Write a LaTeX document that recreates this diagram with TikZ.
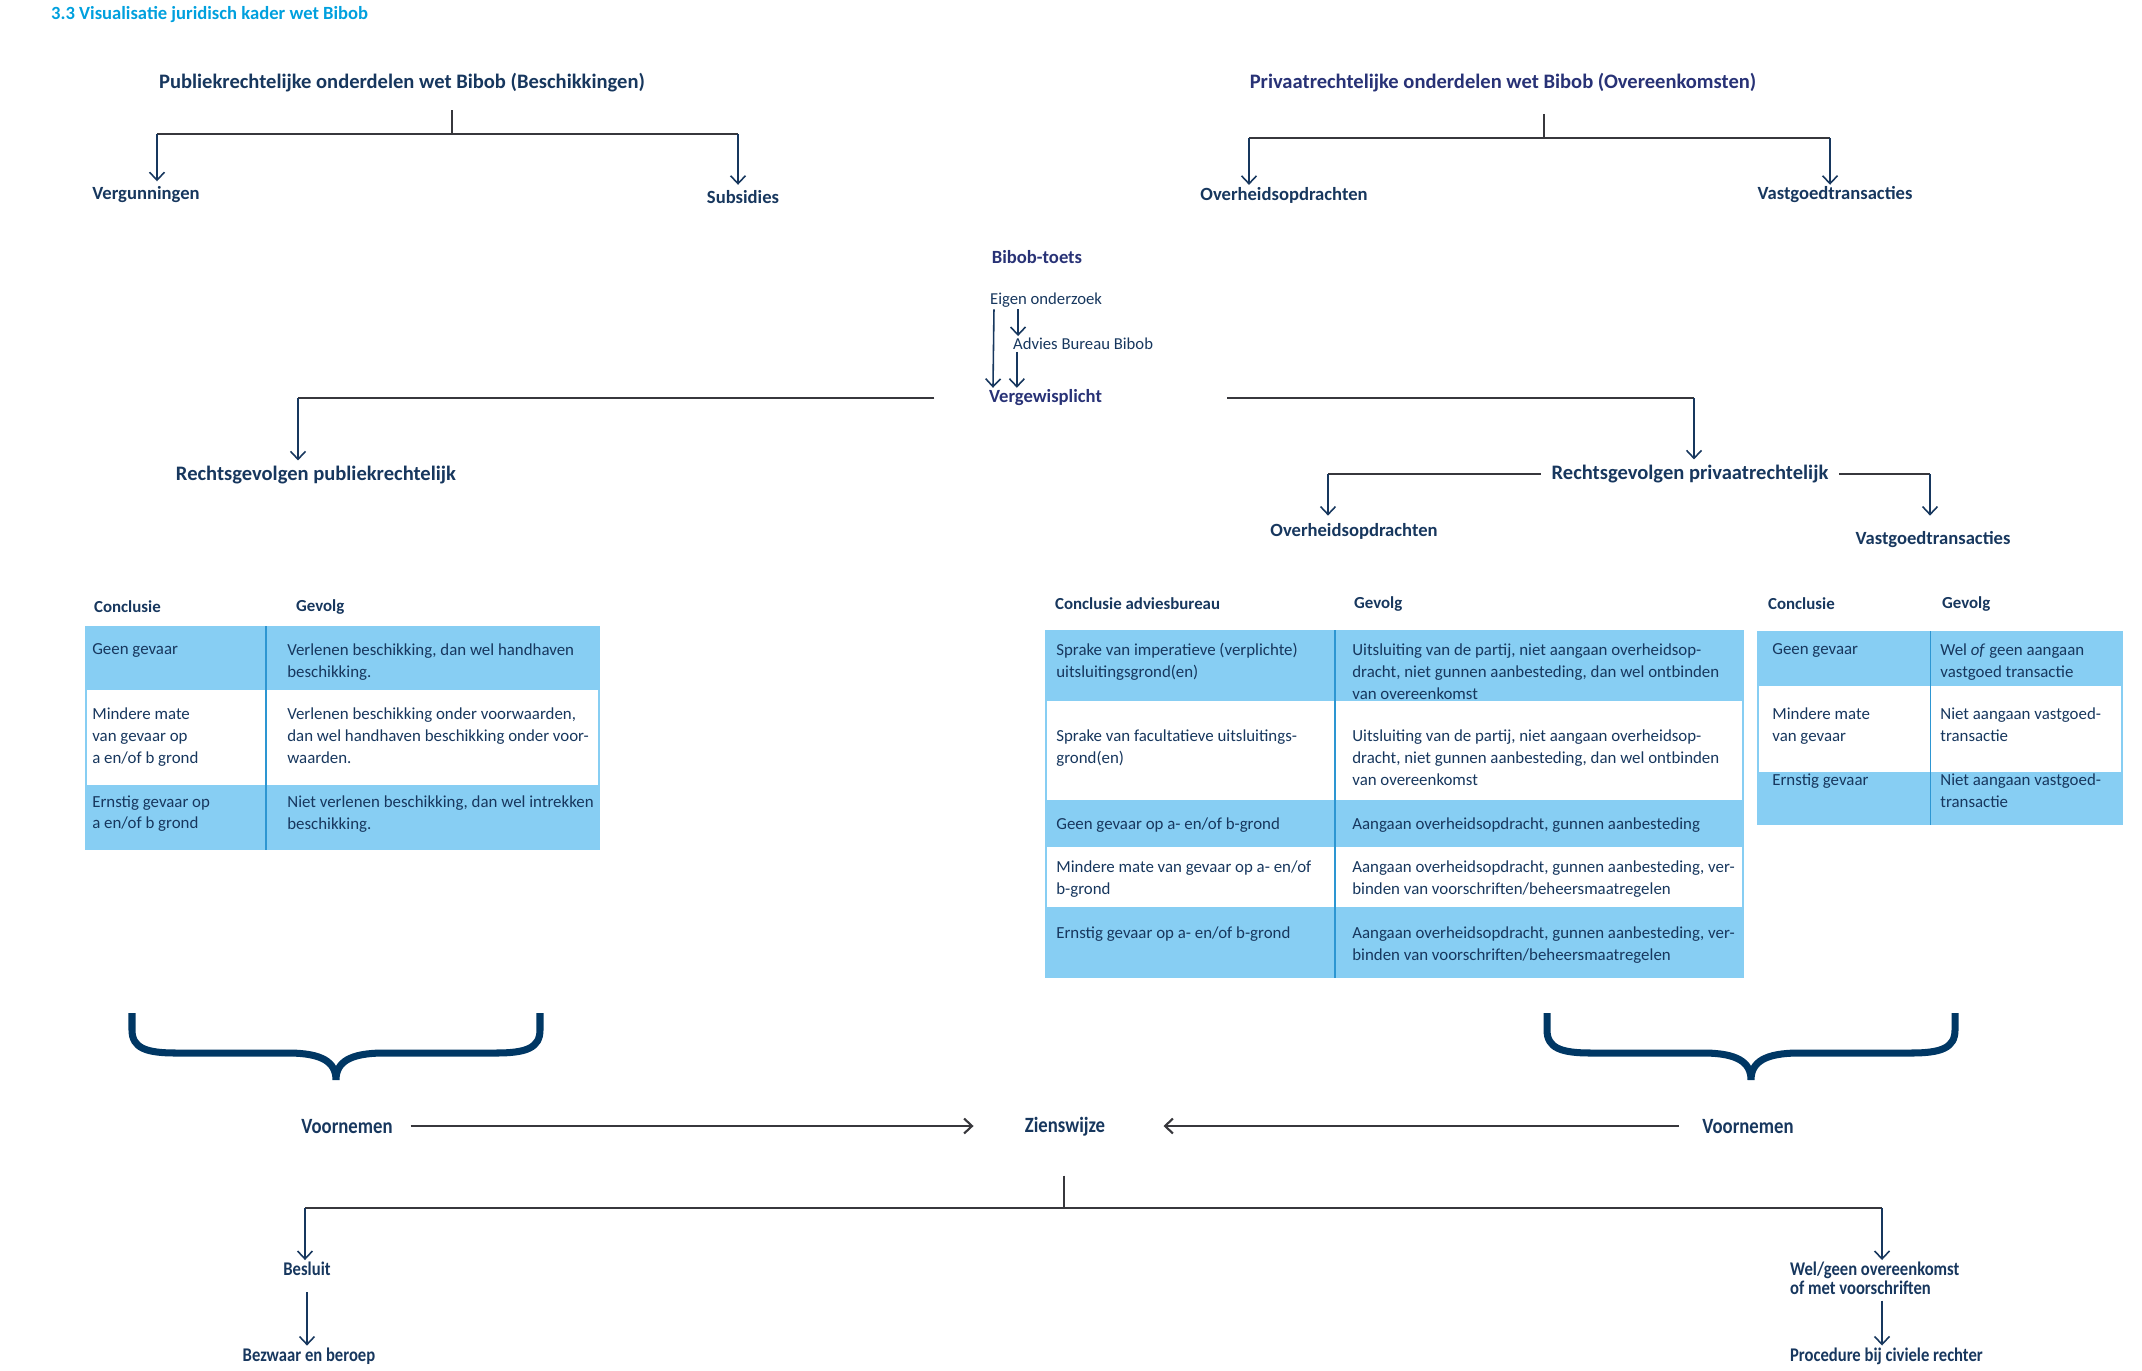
\documentclass[tikz,border=0pt]{standalone}
\usepackage{fontspec}
\setmainfont{Carlito}
\newfontfamily\narrowfont{Carlito}[FakeStretch=0.86]
\usetikzlibrary{arrows.meta,positioning}
\definecolor{navy}{RGB}{23,55,94}
\definecolor{indigo}{RGB}{40,50,118}
\definecolor{skyblue}{RGB}{0,160,222}
\definecolor{cellblue}{RGB}{135,206,243}
\definecolor{gridblue}{RGB}{45,150,210}
\definecolor{bracenavy}{RGB}{0,55,100}
\definecolor{bargray}{RGB}{55,55,60}
\begin{document}
\begin{tikzpicture}[x=0.02cm, y=-0.02cm, >={Straight Barb[length=4.5pt,width=8.5pt]},
  every node/.style={text=navy, inner sep=1pt},
  head/.style={font=\bfseries\fontsize{11.7}{14}\selectfont},
  lbl/.style={font=\bfseries\fontsize{10.6}{12.5}\selectfont},
  small/.style={font=\fontsize{9.5}{11}\selectfont},
  slim/.style={font=\narrowfont\bfseries\fontsize{11}{10.9}\selectfont},
  slimbig/.style={font=\narrowfont\bfseries\fontsize{12.4}{14}\selectfont},
  thead/.style={font=\bfseries\fontsize{9.6}{11}\selectfont, anchor=west},
  cell/.style={font=\fontsize{9.6}{12.5}\selectfont, anchor=north west, align=left, inner sep=0pt},
  bar/.style={draw=bargray, line width=1.5pt},
  stem/.style={draw=bargray, line width=0.8pt},
  arr/.style={->, draw=navy, line width=0.9pt},
  brace/.style={draw=bracenavy, line width=4pt}]

  \useasboundingbox (0,0) rectangle (2142,1370);

  \node[font=\bfseries\fontsize{10.6}{12}\selectfont, text=skyblue, anchor=west] (title) at (49,15)
    {3.3 Visualisatie juridisch kader wet Bibob};

  % ===== Top: publiek- en privaatrechtelijk =====
  \node[head] (pubhead) at (402,83) {Publiekrechtelijke onderdelen wet Bibob (Beschikkingen)};
  \node[lbl] (vergun) at (146,195) {Vergunningen};
  \node[lbl] (subsid) at (743,197) {Subsidies};
  \coordinate (pubfork) at (452,134);
  \coordinate (pubL) at (157,134);
  \coordinate (pubR) at (738,134);
  \draw[stem, shorten <=9pt] (pubhead.south -| pubfork) -- (pubfork);
  \draw[bar] (pubL) -- (pubR);
  \draw[arr, shorten >=2pt] (pubL) -- (pubL |- vergun.north);
  \draw[arr, shorten >=2pt] (pubR) -- (pubR |- subsid.north);

  \node[head, text=indigo] (privhead) at (1503,83) {Privaatrechtelijke onderdelen wet Bibob (Overeenkomsten)};
  \node[lbl] (ovh) at (1284,195) {Overheidsopdrachten};
  \node[lbl] (vast) at (1835,195) {Vastgoedtransacties};
  \coordinate (privfork) at (1544,138);
  \coordinate (privL) at (1249,138);
  \coordinate (privR) at (1830,138);
  \draw[stem, shorten <=11pt] (privhead.south -| privfork) -- (privfork);
  \draw[bar] (privL) -- (privR);
  \draw[arr] (privL) -- (privL |- ovh.north);
  \draw[arr] (privR) -- (privR |- vast.north);

  % ===== Bibob-toets =====
  \node[lbl, text=indigo] (toets) at (1037,257) {Bibob-toets};
  \node[small, anchor=west] (eigen) at (988,300) {Eigen onderzoek};
  \node[small, anchor=west] (advies) at (1011,344) {Advies Bureau Bibob};
  \node[lbl, text=indigo, anchor=west] (vgp) at (987,398) {Vergewisplicht};
  \coordinate (adv) at ([xshift=4pt]advies.north west);
  \coordinate (vgpin) at ([xshift=17pt]vgp.north west);
  \draw[arr] ([xshift=3.4pt]eigen.south west) -- ([xshift=3.4pt]vgp.north west);
  \draw[arr] (adv |- eigen.south) -- (adv);
  \draw[arr] (vgpin |- advies.south) -- (vgpin);

  \node[head] (rgpub) at (316,475) {Rechtsgevolgen publiekrechtelijk};
  \node[head] (rgpriv) at (1690,474) {Rechtsgevolgen privaatrechtelijk};
  \coordinate (pubdrop) at (298,398);
  \coordinate (privdrop) at (1694,398);
  \draw[bar, shorten <=30pt] (vgp.west) -- (pubdrop);
  \draw[bar, shorten <=70pt] (vgp.east) -- (privdrop);
  \draw[arr, shorten >=2pt] (pubdrop) -- (pubdrop |- rgpub.north);
  \draw[arr, shorten >=2pt] (privdrop) -- (privdrop |- rgpriv.north);

  \node[lbl] (ovh2) at (1354,531) {Overheidsopdrachten};
  \node[lbl] (vast2) at (1933,540) {Vastgoedtransacties};
  \coordinate (opdrop) at (1328,474);
  \coordinate (vgdrop) at (1930,474);
  \draw[bar, shorten <=5pt] (rgpriv.west) -- (opdrop);
  \draw[bar, shorten <=5pt] (rgpriv.east) -- (vgdrop);
  \draw[arr, shorten >=3pt] (opdrop) -- (opdrop |- ovh2.north);
  \draw[arr, shorten >=3pt] (vgdrop) -- (vgdrop |- ovh2.north);

  % ===== Table: publiekrechtelijk =====
  \fill[cellblue] (85,626) rectangle (600,850);
  \fill[white] (87,690) rectangle (598,785);
  \draw[gridblue, line width=0.6pt] (266,626) -- (266,850);
  \node[thead] (lhc) at (92,607) {Conclusie};
  \node[thead] (lhg) at (294,607) {Gevolg};
  \node[cell] (l1a) at (92,643) {Geen gevaar};
  \node[cell] (l1b) at (287,643) {Verlenen beschikking, dan wel handhaven\\beschikking.};
  \node[cell] (l2a) at (92,707) {Mindere mate\\van gevaar op\\a en/of b grond};
  \node[cell] (l2b) at (287,707) {Verlenen beschikking onder voorwaarden,\\dan wel handhaven beschikking onder voor-\\waarden.};
  \node[cell] (l3a) at (92,795) {Ernstig gevaar op\\a en/of b grond};
  \node[cell] (l3b) at (287,795) {Niet verlenen beschikking, dan wel intrekken\\beschikking.};

  % ===== Table: overheidsopdrachten =====
  \fill[cellblue] (1045,630) rectangle (1744,978);
  \fill[white] (1047,701) rectangle (1742,800);
  \fill[white] (1047,847) rectangle (1742,907);
  \draw[gridblue, line width=0.6pt] (1335,630) -- (1335,978);
  \node[thead] (mhc) at (1053,604) {Conclusie adviesbureau};
  \node[thead] (mhg) at (1352,604) {Gevolg};
  \node[cell] (m1a) at (1056,643) {Sprake van imperatieve (verplichte)\\uitsluitingsgrond(en)};
  \node[cell] (m1b) at (1352,643) {Uitsluiting van de partij, niet aangaan overheidsop-\\dracht, niet gunnen aanbesteding, dan wel ontbinden\\van overeenkomst};
  \node[cell] (m2a) at (1056,729) {Sprake van facultatieve uitsluitings-\\grond(en)};
  \node[cell] (m2b) at (1352,729) {Uitsluiting van de partij, niet aangaan overheidsop-\\dracht, niet gunnen aanbesteding, dan wel ontbinden\\van overeenkomst};
  \node[cell] (m3a) at (1056,817) {Geen gevaar op a- en/of b-grond};
  \node[cell] (m3b) at (1352,817) {Aangaan overheidsopdracht, gunnen aanbesteding};
  \node[cell] (m4a) at (1056,860) {Mindere mate van gevaar op a- en/of\\b-grond};
  \node[cell] (m4b) at (1352,860) {Aangaan overheidsopdracht, gunnen aanbesteding, ver-\\binden van voorschriften/beheersmaatregelen};
  \node[cell] (m5a) at (1056,926) {Ernstig gevaar op a- en/of b-grond};
  \node[cell] (m5b) at (1352,926) {Aangaan overheidsopdracht, gunnen aanbesteding, ver-\\binden van voorschriften/beheersmaatregelen};

  % ===== Table: vastgoedtransacties =====
  \fill[cellblue] (1757,631) rectangle (2123,825);
  \fill[white] (1759,686) rectangle (2121,772);
  \draw[gridblue, line width=0.6pt] (1930,631) -- (1930,825);
  \node[thead] (rhc) at (1766,604) {Conclusie};
  \node[thead] (rhg) at (1940,604) {Gevolg};
  \node[cell] (r1a) at (1772,643) {Geen gevaar};
  \node[cell] (r1b) at (1940,643) {Wel \textit{of} geen aangaan\\vastgoed transactie};
  \node[cell] (r2a) at (1772,707) {Mindere mate\\van gevaar};
  \node[cell] (r2b) at (1940,707) {Niet aangaan vastgoed-\\transactie};
  \node[cell] (r3a) at (1772,773) {Ernstig gevaar};
  \node[cell] (r3b) at (1940,773) {Niet aangaan vastgoed-\\transactie};

  % ===== Braces =====
  \foreach \bx in {336,1751}
    \draw[brace] ({\bx-204},1013) -- ({\bx-204},1030)
      .. controls ({\bx-204},1048) and ({\bx-190},1053) .. ({\bx-160},1053) -- ({\bx-48},1053)
      .. controls ({\bx-14},1053) and (\bx,1062) .. (\bx,1080)
      .. controls (\bx,1062) and ({\bx+14},1053) .. ({\bx+48},1053) -- ({\bx+160},1053)
      .. controls ({\bx+190},1053) and ({\bx+204},1048) .. ({\bx+204},1030) -- ({\bx+204},1013);

  % ===== Bottom: zienswijze en besluit =====
  \node[slimbig] (voorL) at (347,1126) {Voornemen};
  \node[slimbig] (zien) at (1065,1127) {Zienswijze};
  \node[slimbig] (voorR) at (1748,1126) {Voornemen};
  \draw[bar, ->, line width=1.2pt, shorten <=9pt, shorten >=28pt] (voorL.east) -- (voorL.east -| zien.west);
  \draw[bar, ->, line width=1.2pt, shorten <=12pt, shorten >=32pt] (voorR.west) -- (voorR.west -| zien.east);

  \coordinate (zfork) at (1064,1208);
  \coordinate (besL) at (305,1208);
  \coordinate (welR) at (1882,1208);
  \draw[stem, shorten <=21pt] (zien.south -| zfork) -- (zfork);
  \draw[bar] (besL) -- (welR);

  \node[slim] (besluit) at (307,1269) {Besluit};
  \node[slim] (bezwaar) at (309,1356) {Bezwaar en beroep};
  \node[slim, anchor=north west, align=left] (welgeen) at (1788,1260) {Wel/geen overeenkomst\\of met voorschriften};
  \node[slim, anchor=west] (proc) at (1788,1356) {Procedure bij civiele rechter};
  \draw[arr] (besL) -- (besL |- besluit.north);
  \draw[arr] (welR) -- (welR |- welgeen.north);
  \draw[arr, shorten <=8pt] (besluit.south) -- (besluit.south |- bezwaar.north);
  \draw[arr, shorten <=2pt] (welgeen.south -| welR) -- (welR |- proc.north);
\end{tikzpicture}
\end{document}
